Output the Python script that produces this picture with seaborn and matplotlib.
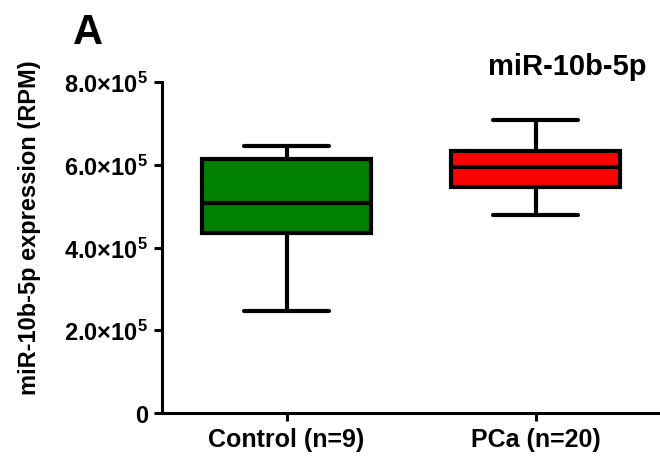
import pandas as pd
import matplotlib
matplotlib.use("Agg")
import matplotlib.pyplot as plt
import seaborn as sns

# Groups and five-number summaries (min, Q1, median, Q3, max)
groups = ["Control (n=9)", "PCa (n=20)"]
control_vals = [2.47e5, 4.35e5, 5.07e5, 6.14e5, 6.46e5]
pca_vals = [4.78e5, 5.46e5, 5.94e5, 6.33e5, 7.07e5]
box_colors = ["#008000", "#FF0000"]

ytick_vals = [0, 2e5, 4e5, 6e5, 8e5]
ytick_labels = ["0", "2.0×10$^{5}$", "4.0×10$^{5}$", "6.0×10$^{5}$", "8.0×10$^{5}$"]

# Long-form table for seaborn
df = pd.DataFrame({
    "group": [groups[0]] * len(control_vals) + [groups[1]] * len(pca_vals),
    "rpm": control_vals + pca_vals,
})

sns.set_style("ticks")
plt.rcParams["font.family"] = ["Liberation Sans", "DejaVu Sans"]
plt.rcParams["font.weight"] = "bold"
plt.rcParams["mathtext.fontset"] = "custom"
plt.rcParams["mathtext.rm"] = "Liberation Sans:bold"
plt.rcParams["mathtext.it"] = "Liberation Sans:bold"
plt.rcParams["mathtext.bf"] = "Liberation Sans:bold"
for key in ["text.color", "axes.labelcolor", "xtick.color", "ytick.color",
            "axes.edgecolor"]:
    plt.rcParams[key] = "black"

fig = plt.figure(figsize=(6.6, 4.6), dpi=100)
ax = fig.add_axes([162 / 660, 46 / 460, 1 - 162 / 660, 331 / 460])

# whiskers go from min to max, like GraphPad
sns.boxplot(data=df, x="group", y="rpm", hue="group", palette=box_colors,
            saturation=1, width=0.675, whis=(0, 100), linecolor="black",
            linewidth=3, legend=False, ax=ax)

ax.set_xlim(-0.5, 1.5)
ax.set_ylim(0, 8e5)
ax.set_yticks(ytick_vals)
ax.set_yticklabels(ytick_labels)
ax.set_xlabel("")
ax.set_ylabel("")
sns.despine(ax=ax)
for side in ["left", "bottom"]:
    ax.spines[side].set_linewidth(2.2)
ax.tick_params(axis="both", width=2.2, length=6, pad=4)
ax.tick_params(axis="y", labelsize=17)
ax.tick_params(axis="x", labelsize=18)

fig.text(30 / 660, 232 / 460, "miR-10b-5p expression (RPM)", rotation=90,
         ha="center", va="center", fontsize=17, fontweight="bold")
fig.text(567 / 660, (460 - 75) / 460, "miR-10b-5p", ha="center",
         va="baseline", fontsize=21, fontweight="bold")
fig.text(73 / 660, (460 - 44) / 460, "A", ha="left", va="baseline",
         fontsize=30, fontweight="bold")

plt.savefig("out.png", dpi=100)
